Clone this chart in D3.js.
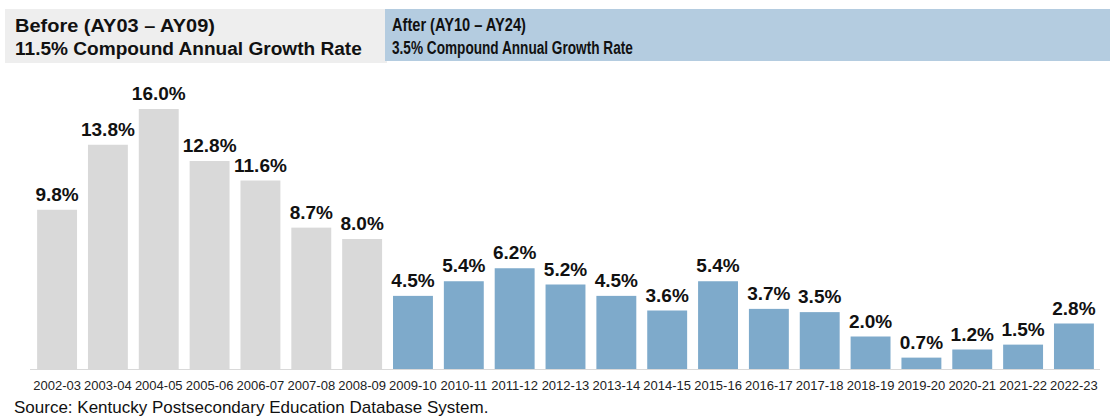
<!DOCTYPE html>
<html>
<head>
<meta charset="utf-8">
<script src="https://cdn.jsdelivr.net/npm/d3@7"></script>
<style>
  body { margin: 0; background: #fff; }
  text { font-family: Arial, "Liberation Sans", sans-serif; }
</style>
</head>
<body>
<div id="chart"></div>
<script>
var years = ["2002-03","2003-04","2004-05","2005-06","2006-07","2007-08","2008-09",
  "2009-10","2010-11","2011-12","2012-13","2013-14","2014-15","2015-16","2016-17",
  "2017-18","2018-19","2019-20","2020-21","2021-22","2022-23"];
var growth = [9.8, 13.8, 16.0, 12.8, 11.6, 8.7, 8.0,
  4.5, 5.4, 6.2, 5.2, 4.5, 3.6, 5.4, 3.7, 3.5, 2.0, 0.7, 1.2, 1.5, 2.8];
var beforeCount = 7; // first 7 years are the "before" period
var headerLines = [
  ["Before (AY03 \u2013 AY09)", "11.5% Compound Annual Growth Rate"],
  ["After (AY10 \u2013 AY24)", "3.5% Compound Annual Growth Rate"]
];
var sourceNote = "Source: Kentucky Postsecondary Education Database System.";

var width = 1110, height = 418,
  baseY = 369, topY = 109;

var svg = d3.select("#chart").append("svg")
  .attr("width", width)
  .attr("height", height);

var x = d3.scaleBand()
  .domain(years)
  .range([30.5, 1100.5])
  .paddingInner(0.215)
  .paddingOuter(0.13);

var y = d3.scaleLinear()
  .domain([0, 16])
  .range([baseY, topY]);

// header boxes
svg.append("rect")
  .attr("x", 5).attr("y", 9).attr("width", 382).attr("height", 54)
  .style("fill", "#eeeeee");
svg.append("rect")
  .attr("x", 385).attr("y", 9).attr("width", 725).attr("height", 52)
  .style("fill", "#b4cce0");

// header text, squeezed horizontally to the widths seen in the picture
function headerText(str, tx, ty, w) {
  var t = svg.append("text")
    .attr("x", 0).attr("y", 0)
    .style("font-size", "18.5px").style("font-weight", "bold").style("fill", "#111")
    .text(str);
  var natural = t.node().getComputedTextLength();
  t.attr("transform", "translate(" + tx + "," + ty + ") scale(" + (w / natural) + ",1)");
}
headerText(headerLines[0][0], 15, 32, 200);
headerText(headerLines[0][1], 15, 55, 347);
headerText(headerLines[1][0], 392, 31, 134);
headerText(headerLines[1][1], 392, 54, 241);

// bars
svg.selectAll(".bar")
  .data(growth)
  .enter().append("rect")
  .attr("class", "bar")
  .attr("x", function (d, i) { return x(years[i]); })
  .attr("y", function (d) { return y(d); })
  .attr("width", x.bandwidth())
  .attr("height", function (d) { return baseY - y(d); })
  .style("fill", function (d, i) { return i < beforeCount ? "#d9d9d9" : "#7eaacb"; });

// value labels
svg.selectAll(".val")
  .data(growth)
  .enter().append("text")
  .attr("class", "val")
  .attr("x", function (d, i) { return x(years[i]) + x.bandwidth() / 2; })
  .attr("y", function (d) { return y(d) - 9; })
  .style("text-anchor", "middle")
  .style("font-size", "19px").style("font-weight", "bold").style("fill", "#111")
  .text(function (d) { return d.toFixed(1) + "%"; });

// x axis
var xAxis = svg.append("g")
  .attr("transform", "translate(0," + baseY + ")")
  .call(d3.axisBottom(x).tickSize(0).tickPadding(12));
xAxis.select(".domain").attr("stroke", "#d9d9d9").attr("d", "M30,0.5H1100");
xAxis.selectAll("text")
  .style("font-family", "Arial, 'Liberation Sans', sans-serif")
  .style("font-size", "13px").style("fill", "#222");

svg.append("text")
  .attr("x", 14).attr("y", 413)
  .style("font-size", "17px").style("fill", "#111")
  .text(sourceNote);
</script>
</body>
</html>
